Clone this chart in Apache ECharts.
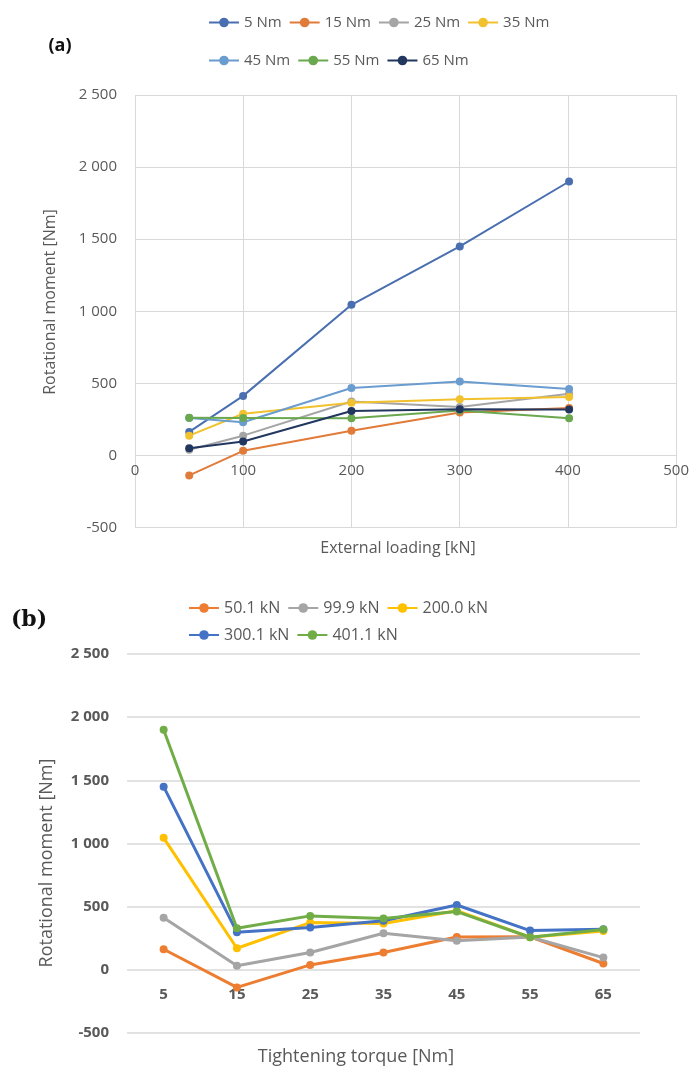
<!DOCTYPE html>
<html>
<head>
<meta charset="utf-8">
<script src="https://cdn.jsdelivr.net/npm/echarts@6/dist/echarts.min.js"></script>
<style>
html,body{margin:0;padding:0;background:#fff;}
#c{width:692px;height:1070px;}
</style>
</head>
<body>
<div id="c"></div>
<script>
// ---- Data ----
var torques = ['5', '15', '25', '35', '45', '55', '65'];          // Tightening torque [Nm]
var torqueNames = ['5 Nm', '15 Nm', '25 Nm', '35 Nm', '45 Nm', '55 Nm', '65 Nm'];
var loads = [50.1, 99.9, 200.0, 300.1, 401.1];                      // External loading [kN]
var loadNames = ['50.1 kN', '99.9 kN', '200.0 kN', '300.1 kN', '401.1 kN'];
// Rotational moment [Nm] per load, over torques 5..65
var m50  = [163, -139, 39, 137, 260, 262, 50];
var m100 = [413, 32, 137, 289, 230, 260, 97];
var m200 = [1045, 171, 374, 366, 468, 258, 308];
var m300 = [1450, 297, 336, 389, 513, 311, 321];
var m401 = [1900, 329, 427, 406, 461, 258, 319];
var yTicks = [-500, 0, 500, 1000, 1500, 2000, 2500];
var xTicksA = [0, 100, 200, 300, 400, 500];

var byLoad = [m50, m100, m200, m300, m401];
var colorsA = ['#4a6fb0', '#e07b39', '#a5a5a5', '#f2c12e', '#6a9ccf', '#6aa84f', '#22375f'];
var colorsB = ['#ed7d31', '#a5a5a5', '#ffc000', '#4472c4', '#70ad47'];

function fmt(v) { return String(v).replace(/\B(?=(\d{3})+(?!\d))/g, '\u00a0'); }

var FA = '"Open Sans", "Noto Sans", sans-serif';
var FB = '"Open Sans", "Noto Sans", sans-serif';
var grey = '#595959';
var gridCol = '#d9d9d9';

// layout: grid boxes
var gA = { left: 135, top: 95, width: 543, height: 432.5 };
var gB = { left: 127, top: 654, width: 513, height: 379 };
// shift the x axes up from the grid bottom to the y = 0 line (Excel style crossing)
function zeroOffset(g) { return -g.height * (0 - yTicks[0]) / (yTicks[yTicks.length - 1] - yTicks[0]); }

var series = [];
torqueNames.forEach(function (name, j) {
  series.push({
    name: name, type: 'line', xAxisIndex: 0, yAxisIndex: 0,
    data: loads.map(function (x, i) { return [x, byLoad[i][j]]; }),
    symbol: 'circle', symbolSize: 8,
    lineStyle: { width: 2, color: colorsA[j] },
    itemStyle: { color: colorsA[j] },
    emphasis: { disabled: true }
  });
});
loadNames.forEach(function (name, i) {
  series.push({
    name: name, type: 'line', xAxisIndex: 1, yAxisIndex: 1,
    data: byLoad[i],
    symbol: 'circle', symbolSize: 8,
    lineStyle: { width: 3, color: colorsB[i] },
    itemStyle: { color: colorsB[i] },
    emphasis: { disabled: true }
  });
});

function legend(data, left, top, w, font, size) {
  return {
    data: data, left: left, top: top, orient: 'horizontal',
    itemWidth: 30, itemHeight: 12, itemGap: 7,
    textStyle: { color: grey, fontFamily: font, fontSize: size, width: w, overflow: 'none' },
    selectedMode: false
  };
}

var option = {
  animation: false,
  backgroundColor: '#ffffff',
  legend: [
    legend(torqueNames.slice(0, 4), 203, 10, 60, FA, 15),
    legend(torqueNames.slice(4), 203, 48, 60, FA, 15),
    legend(loadNames.slice(0, 3), 183, 595, 74, FB, 16),
    legend(loadNames.slice(3), 183, 622, 74, FB, 16)
  ],
  grid: [
    { left: gA.left, top: gA.top, width: gA.width, height: gA.height, containLabel: false },
    { left: gB.left, top: gB.top, width: gB.width, height: gB.height, containLabel: false }
  ],
  xAxis: [
    {
      type: 'value', gridIndex: 0, min: xTicksA[0], max: xTicksA[xTicksA.length - 1], interval: 100,
      offset: zeroOffset(gA),
      axisLine: { show: false, onZero: false }, axisTick: { show: false },
      axisLabel: { color: grey, fontFamily: FA, fontSize: 15, margin: 8 },
      splitLine: { show: true, lineStyle: { color: gridCol, width: 1 } }
    },
    {
      type: 'category', gridIndex: 1, data: torques, boundaryGap: true,
      offset: zeroOffset(gB),
      axisLine: { show: false, onZero: false }, axisTick: { show: false },
      axisLabel: { color: grey, fontFamily: FB, fontSize: 15, fontWeight: 'bold', margin: 17 },
      splitLine: { show: false }
    }
  ],
  yAxis: [
    {
      type: 'value', gridIndex: 0, min: yTicks[0], max: yTicks[yTicks.length - 1], interval: 500,
      axisLine: { show: false }, axisTick: { show: false },
      axisLabel: { color: grey, fontFamily: FA, fontSize: 15, margin: 18, formatter: fmt },
      splitLine: { show: true, lineStyle: { color: gridCol, width: 1 } }
    },
    {
      type: 'value', gridIndex: 1, min: yTicks[0], max: yTicks[yTicks.length - 1], interval: 500,
      axisLine: { show: false }, axisTick: { show: false },
      axisLabel: { color: grey, fontFamily: FB, fontSize: 15, fontWeight: 'bold', margin: 18, formatter: fmt },
      splitLine: { show: true, lineStyle: { color: gridCol, width: 1.5 } }
    }
  ],
  graphic: [
    { type: 'text', x: 60, y: 46, style: { text: '(a)', font: 'bold 18px ' + FB, fill: '#111', align: 'center', verticalAlign: 'middle' } },
    { type: 'text', x: 29, y: 620, style: { text: '(b)', font: 'bold 22px "DejaVu Serif", "Liberation Serif", serif', fill: '#111', align: 'center', verticalAlign: 'middle' } },
    { type: 'text', x: 50, y: 302, rotation: Math.PI / 2, style: { text: 'Rotational moment [Nm]', font: '16px ' + FA, fill: grey, align: 'center', verticalAlign: 'middle' } },
    { type: 'text', x: 398, y: 548, style: { text: 'External loading [kN]', font: '16px ' + FA, fill: grey, align: 'center', verticalAlign: 'middle' } },
    { type: 'text', x: 47, y: 863, rotation: Math.PI / 2, style: { text: 'Rotational moment [Nm]', font: '18px ' + FB, fill: grey, align: 'center', verticalAlign: 'middle' } },
    { type: 'text', x: 356, y: 1057, style: { text: 'Tightening torque [Nm]', font: '18px ' + FB, fill: grey, align: 'center', verticalAlign: 'middle' } }
  ],
  series: series
};

var chart = echarts.init(document.getElementById('c'), null, { renderer: 'canvas' });
chart.setOption(option);
</script>
</body>
</html>
